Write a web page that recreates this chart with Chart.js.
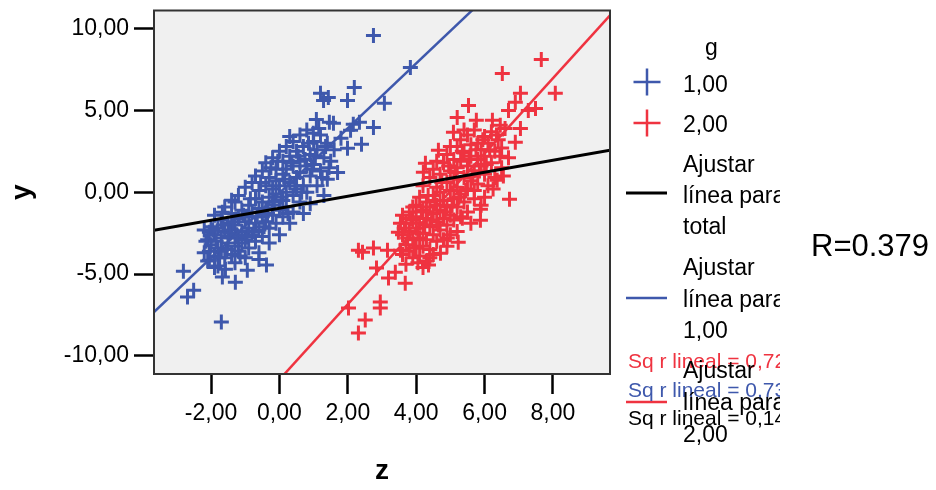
<!DOCTYPE html>
<html>
<head>
<meta charset="utf-8">
<script src="https://cdn.jsdelivr.net/npm/chart.js@4.4.1/dist/chart.umd.min.js"></script>
<style>
  html, body { margin: 0; padding: 0; background: #fff; }
</style>
</head>
<body>
<canvas id="chart" width="936" height="490"></canvas>
<script>
"use strict";
// group g = 1,00  (z, y)
var g1Points = [
  [2.75,9.57],[3.83,7.62],[2.19,6.40],[1.20,6.04],[1.43,5.79],[1.29,5.61],[1.99,5.61],[3.07,5.43],[1.08,4.45],
  [1.46,4.27],[1.58,4.21],[2.16,4.15],[2.34,4.27],[2.75,3.96],[2.08,3.78],[1.99,2.68],[2.40,2.93],[0.99,3.60],
  [-1.70,-7.93],[-2.69,-6.40],[-2.51,-5.98],[-2.81,-4.82],[-1.67,-5.18],[-1.29,-5.49],[-0.94,-4.76],[-0.38,-4.45],
  [-2.05,-4.15],[-1.58,-4.70],[-1.40,-0.49],[-1.67,-1.22],[-2.05,-2.44],
  [-2.2,-2.3],[-2.2,-3.7],[-2.1,-2.9],[-2.1,-4.2],[-2.0,-3.2],[-2.0,-2.1],[-1.9,-3.9],[-1.9,-2.6],[-1.9,-1.4],
  [-1.8,-3.4],[-1.8,-2.2],[-1.8,-4.5],[-1.7,-2.8],[-1.7,-1.7],[-1.7,-3.6],[-1.6,-2.4],[-1.6,-4.0],[-1.6,-0.9],
  [-1.5,-3.1],[-1.5,-1.9],[-1.5,-2.7],[-1.4,-3.8],[-1.4,-1.3],[-1.4,-2.3],[-1.3,-3.3],[-1.3,-0.6],[-1.3,-2.0],
  [-1.3,-4.3],[-1.2,-1.6],[-1.2,-2.8],[-1.2,-3.6],[-1.2,-0.2],[-1.1,-2.4],[-1.1,-1.1],[-1.1,-3.1],[-1.0,-1.8],
  [-1.0,0.3],[-1.0,-2.9],[-1.0,-4.0],[-0.9,-0.8],[-0.9,-2.2],[-0.9,-1.5],[-0.9,-3.4],[-0.8,0.6],[-0.8,-1.2],
  [-0.8,-2.6],[-0.7,-0.4],[-0.7,-1.9],[-0.7,-3.0],[-0.7,1.0],[-0.6,-1.0],[-0.6,-2.3],[-0.6,0.1],[-0.6,-3.7],
  [-0.5,-1.5],[-0.5,1.3],[-0.5,-0.6],[-0.5,-2.7],[-0.4,0.4],[-0.4,-1.8],[-0.4,-1.0],[-0.4,1.8],[-0.3,-0.3],
  [-0.3,-2.2],[-0.3,0.9],[-0.3,-3.1],[-0.2,-1.4],[-0.2,0.2],[-0.2,2.1],[-0.2,-0.8],[-0.1,1.4],[-0.1,-1.9],
  [-0.1,-0.1],[-0.1,0.7],[0.0,-1.1],[0.0,2.5],[0.0,0.4],[0.0,-2.6],[0.1,1.1],[0.1,-0.5],[0.1,1.9],[0.1,-1.5],
  [0.2,0.0],[0.2,2.8],[0.2,-0.9],[0.2,1.4],[0.3,0.6],[0.3,-1.9],[0.3,2.2],[0.4,-0.2],[0.4,1.6],[0.4,3.1],
  [0.4,-1.2],[0.5,0.9],[0.5,2.5],[0.5,0.2],[0.6,1.9],[0.6,-0.6],[0.6,3.5],[0.6,1.2],[0.7,0.4],[0.7,2.8],
  [0.7,-1.3],[0.8,1.6],[0.8,3.8],[0.8,0.0],[0.9,2.3],[0.9,1.0],[0.9,-0.7],[1.0,3.1],[1.0,1.7],[1.1,0.4],
  [1.1,2.6],[1.2,3.5],[1.2,1.3],[1.3,-0.2],[1.3,2.1],[1.4,3.0],[1.4,0.8],[1.5,1.9],[1.6,2.6],[1.7,1.2],[1.8,3.3],
  [-2.15,-3.0],[-2.05,-3.6],[-1.95,-2.3],[-1.85,-3.0],[-1.75,-4.0],[-1.65,-2.0],[-1.55,-3.5],[-1.45,-2.5],
  [-1.35,-1.8],[-1.25,-2.6],[-1.15,-3.9],[-1.05,-1.4],[-0.95,-2.7],[-0.85,-0.4],[-0.75,-2.4],[-0.65,-1.5],
  [-0.55,0.6],[-0.45,-2.1],[-0.35,-1.3],[-0.25,1.5],[-0.15,-0.6],[-0.05,1.9],[0.05,-0.3],[0.15,0.8],
  [0.25,-1.3],[0.35,1.8],[0.45,0.4],[0.55,2.2],[0.65,0.0],[0.75,2.0],[0.85,3.0],[0.95,1.4],[1.05,2.2],
  [1.15,3.9],[1.25,0.9],[1.35,2.8],[1.45,1.5],[-0.6,-4.1],[-1.9,-4.6],[0.3,3.4]
];
// group g = 2,00  (z, y)
var g2Points = [
  [7.66,8.11],[6.52,7.26],[8.07,6.04],[7.05,6.04],[5.53,5.30],[6.90,5.49],[6.70,5.00],[7.28,5.00],[7.49,5.12],
  [5.20,4.57],[5.76,4.39],[6.23,4.39],[7.05,3.90],[6.46,4.09],[5.09,3.66],[6.90,3.05],[4.65,2.56],[6.73,-0.43],
  [5.88,-1.04],[5.88,-1.71],[6.37,0.73],[4.27,1.77],[4.21,1.22],
  [2.31,-8.60],[2.51,-7.80],[2.95,-6.71],[2.95,-7.07],[2.02,-7.07],[3.68,-5.55],[3.19,-5.24],[3.39,-4.88],
  [2.84,-4.63],[2.31,-3.54],[2.75,-3.41],[3.16,-3.54],[2.43,-3.66],[4.36,-4.45],[4.71,-3.72],[3.48,-2.44],
  [3.54,-1.89],[3.60,-1.40],[3.54,-3.54],[5.35,-1.59],[5.23,-3.05],[4.91,-2.80],
  [3.6,-2.6],[3.6,-3.8],[3.7,-1.9],[3.7,-3.2],[3.7,-4.4],[3.8,-2.4],[3.8,-1.2],[3.8,-3.6],[3.9,-2.9],
  [3.9,-1.7],[3.9,-4.0],[4.0,-2.2],[4.0,-0.8],[4.0,-3.4],[4.0,-1.5],[4.1,-2.8],[4.1,-0.3],[4.1,-3.9],
  [4.1,-1.9],[4.2,-1.1],[4.2,-2.5],[4.2,0.4],[4.2,-3.3],[4.3,-1.6],[4.3,-0.6],[4.3,-2.9],[4.3,-4.2],
  [4.4,-0.9],[4.4,-2.1],[4.4,0.9],[4.4,-3.5],[4.5,-1.3],[4.5,-0.2],[4.5,-2.6],[4.5,1.4],[4.6,-1.8],
  [4.6,0.3],[4.6,-0.8],[4.6,-3.0],[4.7,-1.1],[4.7,1.1],[4.7,-2.3],[4.7,0.0],[4.8,-0.5],[4.8,1.8],
  [4.8,-1.6],[4.8,-2.9],[4.9,0.6],[4.9,-0.9],[4.9,2.3],[4.9,-2.0],[5.0,0.1],[5.0,-1.4],[5.0,1.3],
  [5.0,-2.6],[5.1,-0.4],[5.1,2.0],[5.1,0.8],[5.1,-1.7],[5.2,1.5],[5.2,-0.9],[5.2,2.8],[5.2,0.3],
  [5.3,-0.1],[5.3,1.9],[5.3,-1.5],[5.3,3.2],[5.4,0.9],[5.4,2.4],[5.4,-0.6],[5.5,1.6],[5.5,3.5],
  [5.5,0.2],[5.5,-1.2],[5.6,2.2],[5.6,0.7],[5.6,2.9],[5.7,1.3],[5.7,-0.4],[5.7,3.8],[5.8,2.0],
  [5.8,0.5],[5.8,3.0],[5.9,1.6],[5.9,2.6],[5.9,-0.8],[6.0,3.4],[6.0,1.1],[6.0,2.2],[6.1,0.4],
  [6.1,3.0],[6.2,1.8],[6.2,3.7],[6.3,2.5],[6.3,0.9],[6.4,3.2],[6.5,1.5],[6.5,2.7],[6.6,3.9],
  [6.7,2.1],[4.2,-4.6],[4.5,-3.8],[4.9,-3.3],[5.2,-2.4],[5.6,-1.9],
  [3.65,-2.2],[3.75,-2.8],[3.85,-1.6],[3.95,-3.4],[4.05,-2.5],[4.15,-1.2],[4.25,-2.0],[4.35,-0.2],
  [4.45,-1.7],[4.55,-0.5],[4.65,-2.0],[4.75,0.6],[4.85,-1.2],[4.95,1.6],[5.05,-0.8],[5.15,1.2],
  [5.25,-0.3],[5.35,2.5],[5.45,0.1],[5.55,2.0],[5.65,1.0],[5.75,2.6],[5.85,1.3],[5.95,3.2],[6.05,1.7],
  [6.15,2.6],[6.25,0.2],[6.35,3.5],[6.45,2.2],[6.55,1.0],[4.4,-4.0],[4.05,-4.3],[5.0,2.8],[5.4,3.8],
  [4.6,1.9],[6.0,-0.3],[3.9,-0.9],[5.7,0.1]
];
var xTicks = [-2, 0, 2, 4, 6, 8];
var yTicks = [-10, -5, 0, 5, 10];
var xRange = [-3.67, 9.67];
var yRange = [-11.1, 11.1];
// fit lines as [intercept, slope]
var fitTotal = [-0.98, 0.366];
var fitG1 = [-0.05, 1.98];
var fitG2 = [-11.44, 2.30];
var groupLabels = ['1,00', '2,00'];
var fitLabel = ['Ajustar', 'línea para'];
var r2Labels = ['Sq r lineal = 0,725', 'Sq r lineal = 0,737', 'Sq r lineal = 0,143'];
var rText = 'R=0.379';

var BLUE = '#3e58ac', RED = '#ef3340';
var FONT = "'Liberation Sans', Arial, sans-serif";
Chart.defaults.font.family = FONT;

function fmt(v) { return Number(v).toFixed(2).replace('.', ','); }
function toXY(list) { return list.map(function(p) { return { x: p[0], y: p[1] }; }); }
function fitLine(f) {
  return xRange.map(function(z) { return { x: z, y: f[0] + f[1] * z }; });
}

var plotBg = {
  id: 'plotBg',
  beforeDraw: function(chart) {
    var a = chart.chartArea, ctx = chart.ctx;
    ctx.save();
    ctx.fillStyle = '#f0f0f0';
    ctx.fillRect(a.left, a.top, a.right - a.left, a.bottom - a.top);
    ctx.restore();
  },
  afterDatasetsDraw: function(chart) {
    var a = chart.chartArea, ctx = chart.ctx;
    ctx.save();
    ctx.strokeStyle = '#333';
    ctx.lineWidth = 2;
    ctx.strokeRect(a.left, a.top, a.right - a.left, a.bottom - a.top);
    ctx.restore();
  }
};

var sideLegend = {
  id: 'sideLegend',
  afterDraw: function(chart) {
    var ctx = chart.ctx;
    ctx.save();
    ctx.beginPath();
    ctx.rect(615, 0, 165, 490);
    ctx.clip();
    ctx.textBaseline = 'alphabetic';
    ctx.textAlign = 'left';
    ctx.font = '23px ' + FONT;
    ctx.fillStyle = '#000';
    ctx.fillText('g', 705, 55);

    function cross(cx, cy, col) {
      ctx.strokeStyle = col;
      ctx.lineWidth = 2.5;
      ctx.beginPath();
      ctx.moveTo(cx - 13.5, cy); ctx.lineTo(cx + 13.5, cy);
      ctx.moveTo(cx, cy - 13.5); ctx.lineTo(cx, cy + 13.5);
      ctx.stroke();
    }
    function seg(y, col, w) {
      ctx.strokeStyle = col;
      ctx.lineWidth = w;
      ctx.beginPath();
      ctx.moveTo(626, y); ctx.lineTo(667, y);
      ctx.stroke();
    }
    cross(647, 82, BLUE);
    cross(647, 123, RED);
    ctx.fillStyle = '#000';
    ctx.fillText(groupLabels[0], 683, 92);
    ctx.fillText(groupLabels[1], 683, 132);

    seg(193, '#000', 3);
    ctx.fillText(fitLabel[0], 683, 172);
    ctx.fillText(fitLabel[1], 683, 203);
    ctx.fillText('total', 683, 234);

    seg(298, BLUE, 2.5);
    ctx.fillText(fitLabel[0], 683, 275);
    ctx.fillText(fitLabel[1], 683, 307);
    ctx.fillText(groupLabels[0], 683, 338);

    seg(402, RED, 2.5);
    ctx.font = '21px ' + FONT;
    ctx.fillStyle = RED;
    ctx.fillText(r2Labels[0], 628, 368);
    ctx.fillStyle = BLUE;
    ctx.fillText(r2Labels[1], 628, 397);
    ctx.fillStyle = '#000';
    ctx.fillText(r2Labels[2], 628, 425);

    ctx.font = '23px ' + FONT;
    ctx.fillStyle = '#000';
    ctx.fillText(fitLabel[0], 683, 378);
    ctx.fillText(fitLabel[1], 683, 410);
    ctx.fillText(groupLabels[1], 683, 442);
    ctx.restore();

    ctx.save();
    ctx.font = '31px ' + FONT;
    ctx.fillStyle = '#000';
    ctx.fillText(rText, 811, 256);
    ctx.restore();
  }
};

var axisGrid = {
  drawOnChartArea: false, drawTicks: true, tickLength: 20,
  tickWidth: 2.5, tickColor: '#000', color: '#000'
};

new Chart(document.getElementById('chart').getContext('2d'), {
  type: 'scatter',
  data: {
    datasets: [
      { label: 'total', data: fitLine(fitTotal), showLine: true, borderColor: '#000', borderWidth: 3,
        pointRadius: 0, fill: false, clip: 0, order: 0 },
      { label: 'fit 2,00', data: fitLine(fitG2), showLine: true, borderColor: RED, borderWidth: 2.5,
        pointRadius: 0, fill: false, clip: 0, order: 1 },
      { label: 'fit 1,00', data: fitLine(fitG1), showLine: true, borderColor: BLUE, borderWidth: 2.5,
        pointRadius: 0, fill: false, clip: 0, order: 2 },
      { label: groupLabels[1], data: toXY(g2Points), pointStyle: 'cross', pointRadius: 7.5,
        borderColor: RED, backgroundColor: RED, borderWidth: 3, order: 3 },
      { label: groupLabels[0], data: toXY(g1Points), pointStyle: 'cross', pointRadius: 7.5,
        borderColor: BLUE, backgroundColor: BLUE, borderWidth: 3, order: 4 }
    ]
  },
  options: {
    responsive: false,
    animation: false,
    events: [],
    layout: { padding: { left: 0, top: 10, right: 326, bottom: 0 } },
    plugins: { legend: { display: false }, tooltip: { enabled: false } },
    scales: {
      x: {
        type: 'linear', min: xRange[0], max: xRange[1],
        afterBuildTicks: function(s) { s.ticks = xTicks.map(function(v) { return { value: v }; }); },
        afterFit: function(s) { s.height = 116; s.paddingLeft = 0; s.paddingRight = 0; },
        grid: axisGrid,
        border: { color: '#000', width: 2 },
        ticks: { color: '#000', font: { size: 23 }, padding: 6, maxRotation: 0, autoSkip: false,
          callback: function(v) { return fmt(v); } },
        title: { display: true, text: 'z', color: '#000', font: { size: 28, weight: 'bold' },
          padding: { top: 0, bottom: 2 } }
      },
      y: {
        type: 'linear', min: yRange[0], max: yRange[1],
        afterBuildTicks: function(s) { s.ticks = yTicks.map(function(v) { return { value: v }; }); },
        afterFit: function(s) { s.width = 154; s.paddingTop = 0; s.paddingBottom = 0; },
        grid: axisGrid,
        border: { color: '#000', width: 2 },
        ticks: { color: '#000', font: { size: 23 }, padding: 5,
          callback: function(v) { return fmt(v); } },
        title: { display: true, text: 'y', color: '#000', font: { size: 28, weight: 'bold' },
          padding: { top: 5, bottom: 0 } }
      }
    }
  },
  plugins: [plotBg, sideLegend]
});
</script>
</body>
</html>
